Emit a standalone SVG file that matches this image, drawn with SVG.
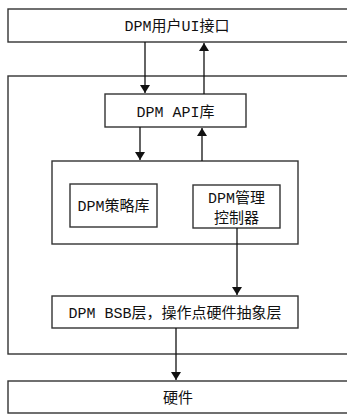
<svg xmlns="http://www.w3.org/2000/svg" width="347" height="415" viewBox="0 0 347 415">
<style>
.b{fill:#fff;stroke:#333;stroke-width:1.4}
.c{fill:none;stroke:#111;stroke-width:1.3}
text{font-family:"Liberation Mono","Noto Sans CJK SC",monospace;font-size:15px;fill:#111;text-anchor:middle}
</style>
<defs>
<marker id="a" viewBox="0 0 8 12" refX="8" refY="6" markerWidth="8" markerHeight="12" markerUnits="userSpaceOnUse" orient="auto">
<path d="M0,1 L8,6 L0,11 Z" fill="#111"/>
</marker>
</defs>
<g id="ui"><rect class="b" x="8" y="9" width="345" height="33"/><text x="177" y="31">DPM用户UI接口</text></g>
<g id="outer"><rect class="b" x="8" y="76" width="345" height="278"/></g>
<g id="api"><rect class="b" x="105" y="94" width="141" height="33"/><text x="175.5" y="117">DPM API库</text></g>
<g id="mid"><rect class="b" x="52" y="161" width="246" height="83"/></g>
<g id="policy"><rect class="b" x="70" y="184" width="87" height="43"/><text x="113.5" y="211">DPM策略库</text></g>
<g id="mgr"><rect class="b" x="193" y="185" width="87" height="43"/><text x="236.5" y="203">DPM管理</text><text x="236.5" y="223">控制器</text></g>
<g id="bsb"><rect class="b" x="52" y="296" width="246" height="32"/><text x="175" y="318">DPM BSB层，操作点硬件抽象层</text></g>
<g id="hw"><rect class="b" x="8" y="381" width="345" height="32"/><text x="178" y="403">硬件</text></g>
<g id="connectors">
<line class="c" x1="145" y1="42" x2="145" y2="93" marker-end="url(#a)"/>
<line class="c" x1="204" y1="94" x2="204" y2="43" marker-end="url(#a)"/>
<line class="c" x1="140" y1="127" x2="140" y2="160" marker-end="url(#a)"/>
<line class="c" x1="202" y1="161" x2="202" y2="128" marker-end="url(#a)"/>
<line class="c" x1="237" y1="228" x2="237" y2="295" marker-end="url(#a)"/>
<line class="c" x1="176" y1="328" x2="176" y2="380" marker-end="url(#a)"/>
</g>
</svg>
